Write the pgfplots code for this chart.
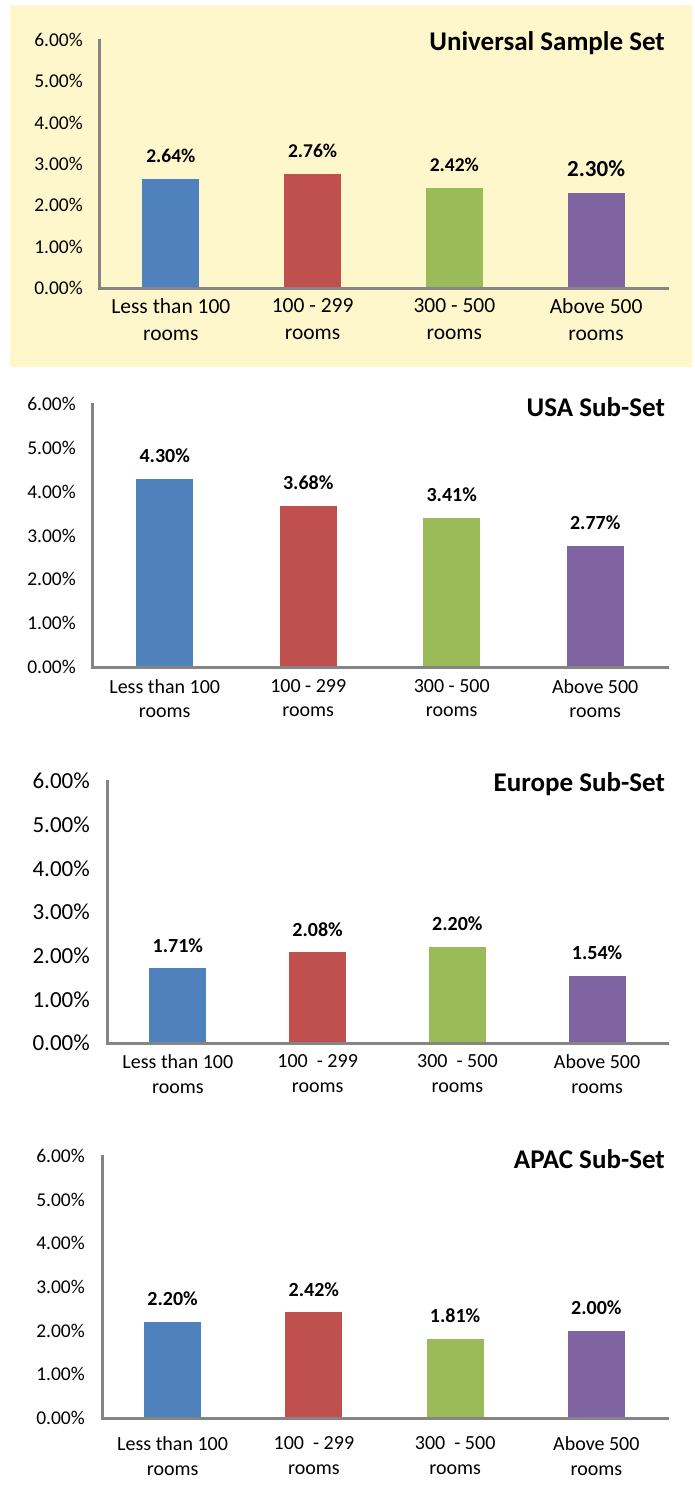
\documentclass[border=0pt]{standalone}
\usepackage{pgfplots}
\pgfplotsset{compat=1.18}
\usepackage{fontspec}
\setmainfont{Carlito}
\definecolor{cblue}{HTML}{4F81BD}
\definecolor{cred}{HTML}{C0504D}
\definecolor{cgreen}{HTML}{9BBB59}
\definecolor{cpurple}{HTML}{8064A2}
\definecolor{axgray}{HTML}{858585}
\definecolor{bgyellow}{HTML}{FFF7CC}
\newcommand{\fs}[2]{\fontsize{#1}{#2}\selectfont}
\pgfplotsset{
  roomchart/.style={
    scale only axis,
    ybar, bar width=57pt,
    xmin=-0.5, xmax=3.5, ymin=0, ymax=6,
    axis x line*=bottom, axis y line*=left,
    axis line style={draw=none, -},
    ytick={0,1,2,3,4,5,6},
    xtick={0,1,2,3},
    major tick length=0pt,
    tick style={draw=none},
    yticklabel={\pgfmathprintnumber[fixed,fixed zerofill,precision=2]{\tick}\%},
    /pgf/number format/assume math mode=true,
    yticklabel style={anchor=east, inner sep=0pt, xshift=-17pt},
    xticklabel style={align=center, anchor=north, inner sep=0pt, yshift=-10pt},
    nodes near coords={\pgfmathprintnumber[fixed,fixed zerofill,precision=2]{\pgfplotspointmeta}\%},
    every node near coord/.append style={anchor=base, yshift=16pt, inner sep=0pt, text=black},
    title style={at={(rel axis cs:1,1)}, anchor=east, inner sep=0pt, xshift=-2pt, yshift=-9pt, font=\bfseries\fs{27}{30}},
    clip=false,
    after end axis/.code={
      \draw[axgray, line width=3pt, line cap=rect]
        (rel axis cs:0,1) -- (rel axis cs:0,0) -- (rel axis cs:1,0);
    },
  },
  b/.style={fill=#1, draw=none, bar shift=0pt},
}
\begin{document}
\begin{tikzpicture}[x=1pt,y=1pt]
\path[use as bounding box, fill=white] (0,0) rectangle (694,-1493);
\fill[bgyellow] (10,-5) rectangle (692,-367);

% Panel 1
\begin{axis}[roomchart, at={(100pt,-288pt)}, anchor=south west, width=567pt, height=248pt,
  title={Universal Sample Set},
  yticklabel style={font=\fs{19.5}{22}},
  xticklabel style={font=\fs{21.5}{27}},
  xticklabels={Less than 100\\rooms, 100 - 299\\rooms, 300 - 500\\rooms, Above 500\\rooms},
  every node near coord/.append style={font=\bfseries\fs{19.5}{22}}]
\addplot[b=cblue] coordinates {(0,2.64)};
\addplot[b=cred] coordinates {(1,2.76)};
\addplot[b=cgreen] coordinates {(2,2.42)};
\addplot[b=cpurple, every node near coord/.append style={font=\bfseries\fs{23}{26}}] coordinates {(3,2.30)};
\end{axis}

% Panel 2
\begin{axis}[roomchart, at={(93pt,-667pt)}, anchor=south west, width=574pt, height=263pt,
  title={USA Sub-Set},
  yticklabel style={font=\fs{19.5}{22}},
  xticklabel style={font=\fs{20}{24}, yshift=-2pt},
  xticklabels={Less than 100\\rooms, 100 - 299\\rooms, 300 - 500\\rooms, Above 500\\rooms},
  every node near coord/.append style={font=\bfseries\fs{20}{22}}]
\addplot[b=cblue] coordinates {(0,4.30)};
\addplot[b=cred] coordinates {(1,3.68)};
\addplot[b=cgreen] coordinates {(2,3.41)};
\addplot[b=cpurple] coordinates {(3,2.77)};
\end{axis}

% Panel 3
\begin{axis}[roomchart, at={(108pt,-1043pt)}, anchor=south west, width=559pt, height=262pt,
  title={Europe Sub-Set},
  yticklabel style={font=\fs{23}{26}, xshift=-1pt},
  xticklabel style={font=\fs{20}{25}, yshift=-1pt},
  xticklabels={Less than 100\\rooms, 100\ \ - 299\\rooms, 300\ \ - 500\\rooms, Above 500\\rooms},
  every node near coord/.append style={font=\bfseries\fs{20}{22}}]
\addplot[b=cblue] coordinates {(0,1.71)};
\addplot[b=cred] coordinates {(1,2.08)};
\addplot[b=cgreen] coordinates {(2,2.20)};
\addplot[b=cpurple] coordinates {(3,1.54)};
\end{axis}

% Panel 4
\begin{axis}[roomchart, at={(102pt,-1418pt)}, anchor=south west, width=565pt, height=262pt,
  title={APAC Sub-Set},
  yticklabel style={font=\fs{19.5}{22}},
  xticklabel style={font=\fs{20}{25}, yshift=-8pt},
  xticklabels={Less than 100\\rooms, 100\ \ - 299\\rooms, 300\ \ - 500\\rooms, Above 500\\rooms},
  every node near coord/.append style={font=\bfseries\fs{20}{22}}]
\addplot[b=cblue] coordinates {(0,2.20)};
\addplot[b=cred] coordinates {(1,2.42)};
\addplot[b=cgreen] coordinates {(2,1.81)};
\addplot[b=cpurple] coordinates {(3,2.00)};
\end{axis}
\end{tikzpicture}
\end{document}
